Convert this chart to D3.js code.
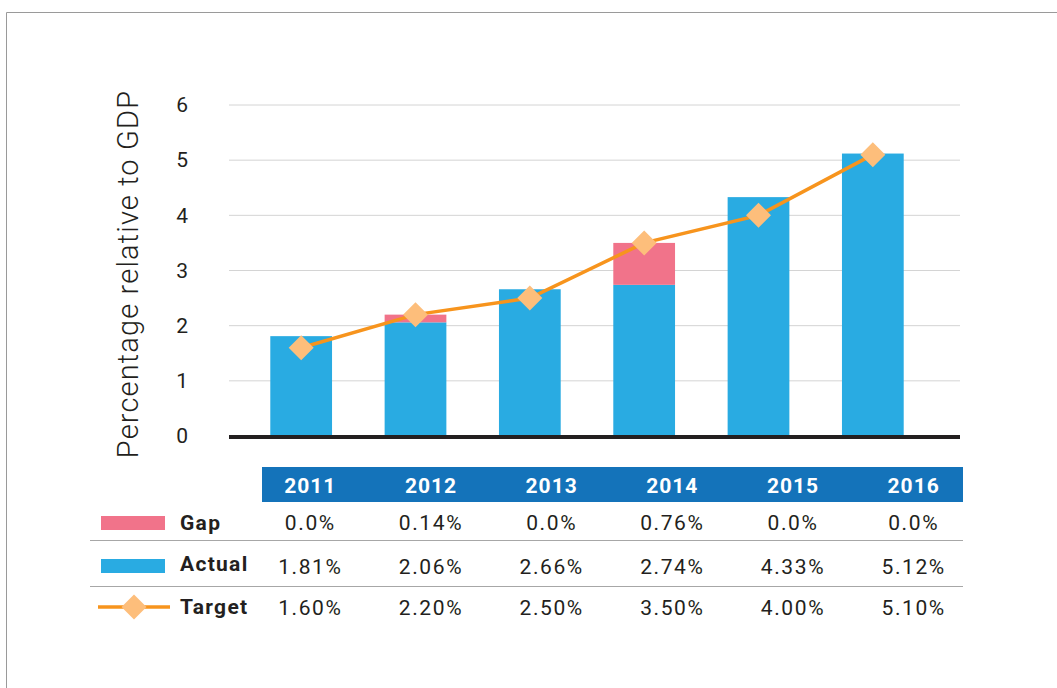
<!DOCTYPE html>
<html>
<head>
<meta charset="utf-8">
<script src="https://cdn.jsdelivr.net/npm/d3@7"></script>
<style>
  html, body { margin: 0; padding: 0; background: #fff; }
  svg { display: block; font-family: Roboto, "Noto Sans", sans-serif; }
</style>
</head>
<body>
<svg id="chart" width="1057" height="688"></svg>
<script>
// Spending relative to GDP, 2011–2016
const years = ["2011", "2012", "2013", "2014", "2015", "2016"];
const actual = [1.81, 2.06, 2.66, 2.74, 4.33, 5.12];
const gap = [0.0, 0.14, 0.0, 0.76, 0.0, 0.0];
const target = [1.60, 2.20, 2.50, 3.50, 4.00, 5.10];
const gapLabels = ["0.0%", "0.14%", "0.0%", "0.76%", "0.0%", "0.0%"];
const actualLabels = ["1.81%", "2.06%", "2.66%", "2.74%", "4.33%", "5.12%"];
const targetLabels = ["1.60%", "2.20%", "2.50%", "3.50%", "4.00%", "5.10%"];
const yTicks = [0, 1, 2, 3, 4, 5, 6];

const COL = {
  actual: "#29abe2",
  gap: "#f1738a",
  line: "#f7941d",
  diamond: "#fdbe7b",
  header: "#1473ba",
  text: "#231f20",
  grid: "#d4d4d4",
  rule: "#a7a7a7"
};

const svg = d3.select("#chart");

// outer frame
svg.append("path")
  .attr("d", "M6.5,688 V12.5 H1057")
  .attr("fill", "none")
  .attr("stroke", "#9a9a9a")
  .attr("stroke-width", 1);

const plot = { left: 229, right: 960, top: 105, bottom: 436 };

const x = d3.scaleBand().domain(years).range([244, 930]).paddingInner(0.46).paddingOuter(0.23);
const y = d3.scaleLinear().domain([0, 6]).range([plot.bottom, plot.top]);

// gridlines
svg.append("g")
  .selectAll("line")
  .data(yTicks.filter(d => d > 0))
  .join("line")
  .attr("x1", plot.left).attr("x2", plot.right)
  .attr("y1", d => y(d)).attr("y2", d => y(d))
  .attr("stroke", COL.grid).attr("stroke-width", 1);

// y axis tick labels
const yAxis = d3.axisLeft(y).tickValues(yTicks).tickSize(0).tickPadding(0).tickFormat(d3.format("d"));
const yg = svg.append("g").attr("transform", `translate(188,0)`).call(yAxis);
yg.select(".domain").remove();
yg.selectAll("text")
  .attr("font-size", 21)
  .attr("fill", COL.text)
  .attr("font-family", "Roboto, sans-serif");

// y axis title
svg.append("text")
  .attr("transform", `translate(138,274) rotate(-90)`)
  .attr("text-anchor", "middle")
  .attr("font-size", 29)
  .attr("font-weight", 300)
  .attr("letter-spacing", 1.15)
  .attr("fill", COL.text)
  .text("Percentage relative to GDP");

// stacked bars: actual + gap
const rows = years.map((yr, i) => ({ yr, actual: actual[i], gap: gap[i], target: target[i] }));

svg.append("g").selectAll("rect")
  .data(rows)
  .join("rect")
  .attr("x", d => x(d.yr))
  .attr("width", x.bandwidth())
  .attr("y", d => y(d.actual))
  .attr("height", d => y(0) - y(d.actual))
  .attr("fill", COL.actual);

svg.append("g").selectAll("rect")
  .data(rows.filter(d => d.gap > 0))
  .join("rect")
  .attr("x", d => x(d.yr))
  .attr("width", x.bandwidth())
  .attr("y", d => y(d.actual + d.gap))
  .attr("height", d => y(d.actual) - y(d.actual + d.gap))
  .attr("fill", COL.gap);

// baseline
svg.append("line")
  .attr("x1", plot.left).attr("x2", plot.right)
  .attr("y1", y(0) + 1).attr("y2", y(0) + 1)
  .attr("stroke", "#231f20").attr("stroke-width", 4);

// target line with diamond markers
const cx = d => x(d.yr) + x.bandwidth() / 2;
svg.append("path")
  .datum(rows)
  .attr("d", d3.line().x(cx).y(d => y(d.target)))
  .attr("fill", "none")
  .attr("stroke", COL.line)
  .attr("stroke-width", 3.5);

const diamond = (s) => `M0,${-s} L${s},0 L0,${s} L${-s},0 Z`;
svg.append("g").selectAll("path")
  .data(rows)
  .join("path")
  .attr("transform", d => `translate(${cx(d)},${y(d.target)})`)
  .attr("d", diamond(12.5))
  .attr("fill", COL.diamond);

// data table
const tx = d3.scaleBand().domain(years).range([250, 974]);
const tcx = yr => tx(yr) + tx.bandwidth() / 2;

svg.append("rect")
  .attr("x", 262).attr("y", 467)
  .attr("width", 963 - 262).attr("height", 35)
  .attr("fill", COL.header);

svg.append("g").selectAll("text")
  .data(years)
  .join("text")
  .attr("x", d => tcx(d))
  .attr("y", 493)
  .attr("text-anchor", "middle")
  .attr("font-size", 21)
  .attr("font-weight", 700)
  .attr("letter-spacing", 1)
  .attr("fill", "#fff")
  .text(d => d);

// row separators
[540, 586].forEach(yy => {
  svg.append("line")
    .attr("x1", 90).attr("x2", 963)
    .attr("y1", yy + 0.5).attr("y2", yy + 0.5)
    .attr("stroke", COL.rule).attr("stroke-width", 1.2);
});

const tableRows = [
  { name: "Gap", labels: gapLabels, ty: 530, vy: 530 },
  { name: "Actual", labels: actualLabels, ty: 571, vy: 574 },
  { name: "Target", labels: targetLabels, ty: 614, vy: 615 }
];

tableRows.forEach(r => {
  svg.append("text")
    .attr("x", 180).attr("y", r.ty)
    .attr("font-size", 21)
    .attr("font-weight", 700)
    .attr("letter-spacing", 1.3)
    .attr("fill", COL.text)
    .text(r.name);
  svg.append("g").selectAll("text")
    .data(years)
    .join("text")
    .attr("x", d => tcx(d))
    .attr("y", r.vy)
    .attr("text-anchor", "middle")
    .attr("font-size", 21)
    .attr("letter-spacing", 1.6)
    .attr("fill", COL.text)
    .text((d, i) => r.labels[i]);
});

// legend swatches
svg.append("rect").attr("x", 101).attr("y", 516).attr("width", 64).attr("height", 14).attr("fill", COL.gap);
svg.append("rect").attr("x", 101).attr("y", 559).attr("width", 64).attr("height", 14).attr("fill", COL.actual);
svg.append("line").attr("x1", 98).attr("x2", 170).attr("y1", 607).attr("y2", 607)
  .attr("stroke", COL.line).attr("stroke-width", 3.5);
svg.append("path").attr("transform", "translate(134,607)").attr("d", diamond(12.5)).attr("fill", COL.diamond);
</script>
</body>
</html>
